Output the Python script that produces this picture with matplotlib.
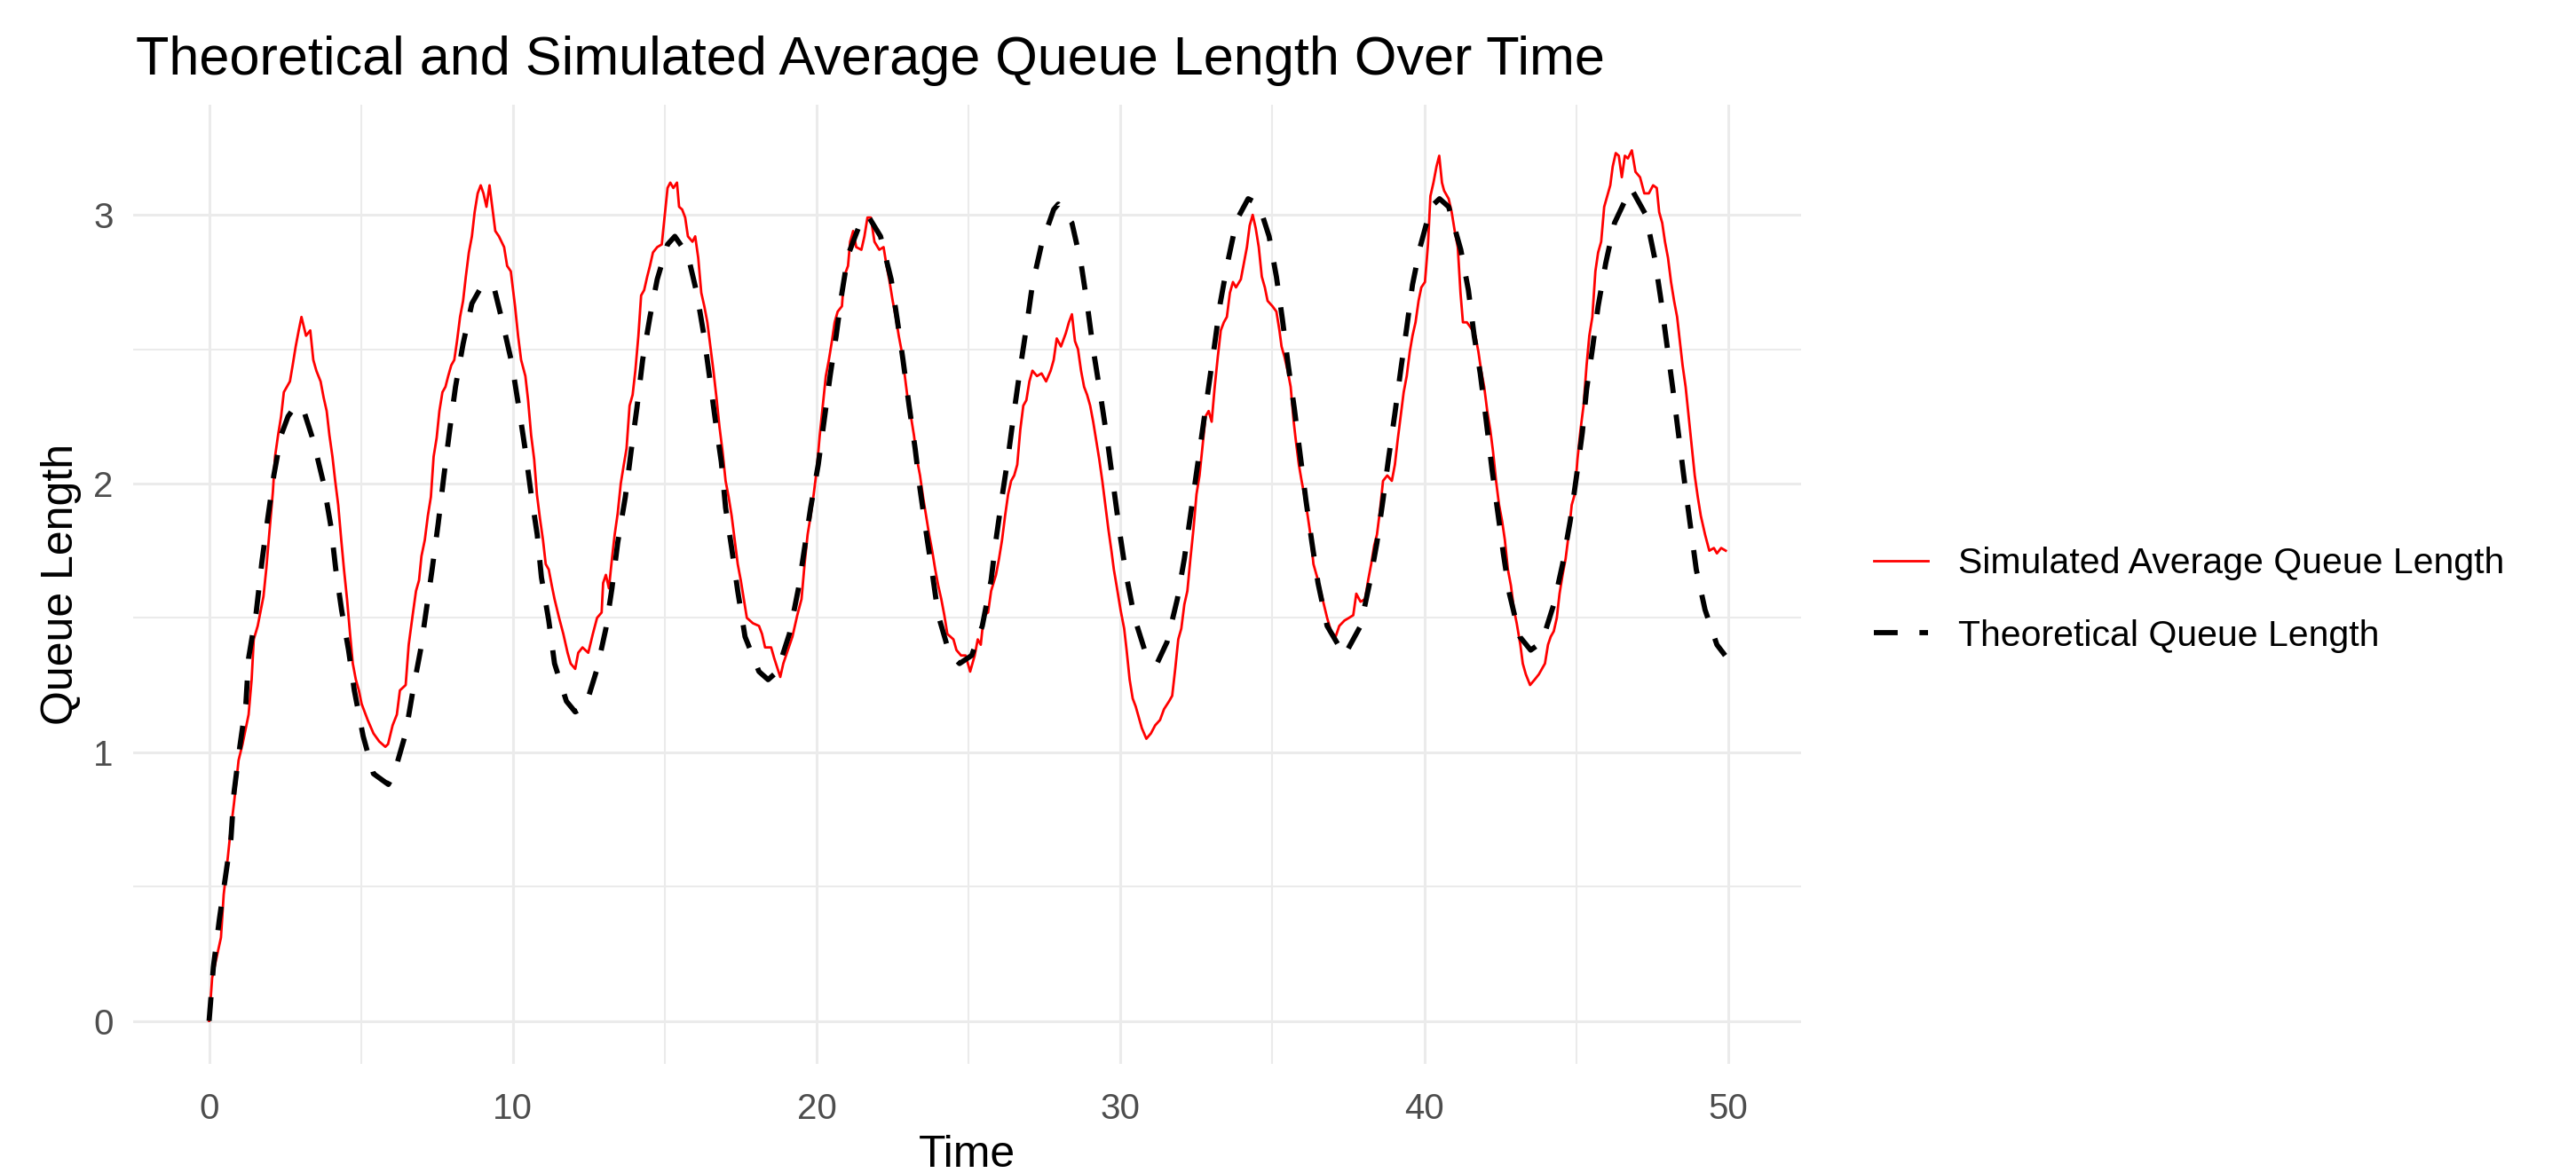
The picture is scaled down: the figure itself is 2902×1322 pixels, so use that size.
import matplotlib.pyplot as plt
from matplotlib.ticker import MultipleLocator

plt.rcParams['font.family'] = ['Liberation Sans', 'DejaVu Sans']

# simulated average queue length
sim_time = [0.0, 0.1, 0.39, 0.48, 0.58, 0.7, 0.82, 0.97, 1.1, 1.3, 1.4, 1.47, 1.6, 1.79, 1.88, 1.98,
            2.1, 2.17, 2.27, 2.37, 2.46, 2.66, 2.75, 2.85, 2.95, 3.04, 3.19, 3.33, 3.43, 3.53, 3.67,
            3.77, 3.87, 3.96, 4.06, 4.15, 4.25, 4.35, 4.44, 4.54, 4.64, 4.73, 4.83, 4.93, 5.02, 5.22,
            5.41, 5.6, 5.8, 5.89, 6.04, 6.18, 6.28, 6.47, 6.57, 6.7, 6.81, 6.91, 6.99, 7.1, 7.2, 7.3,
            7.39, 7.49, 7.58, 7.68, 7.78, 7.87, 7.97, 8.07, 8.16, 8.26, 8.36, 8.45, 8.55, 8.65, 8.74,
            8.84, 8.94, 9.03, 9.13, 9.23, 9.32, 9.42, 9.54, 9.71, 9.81, 9.93, 10.07, 10.17, 10.27,
            10.41, 10.5, 10.6, 10.7, 10.79, 10.89, 10.99, 11.08, 11.18, 11.28, 11.37, 11.52, 11.66,
            11.8, 11.9, 12.05, 12.15, 12.29, 12.48, 12.63, 12.77, 12.92, 12.97, 13.06, 13.16, 13.26,
            13.35, 13.45, 13.55, 13.65, 13.74, 13.84, 13.94, 14.03, 14.13, 14.22, 14.32, 14.42, 14.51,
            14.61, 14.75, 14.9, 14.99, 15.09, 15.18, 15.28, 15.4, 15.47, 15.57, 15.67, 15.76, 15.91,
            16.0, 16.1, 16.2, 16.3, 16.4, 16.5, 16.6, 16.7, 16.8, 16.9, 17.0, 17.1, 17.2, 17.3, 17.4,
            17.5, 17.6, 17.7, 17.9, 18.1, 18.2, 18.3, 18.5, 18.6, 18.8, 18.9, 19.05, 19.2, 19.36, 19.5,
            19.6, 19.7, 19.8, 19.9, 20.0, 20.1, 20.2, 20.3, 20.4, 20.5, 20.59, 20.69, 20.83, 20.9,
            21.03, 21.1, 21.2, 21.3, 21.47, 21.57, 21.67, 21.78, 21.9, 22.06, 22.2, 22.3, 22.4, 22.5,
            22.6, 22.7, 22.8, 22.9, 23.0, 23.1, 23.2, 23.3, 23.4, 23.5, 23.6, 23.7, 23.8, 23.9, 24.0,
            24.1, 24.2, 24.3, 24.5, 24.6, 24.75, 24.9, 25.05, 25.2, 25.3, 25.4, 25.5, 25.64, 25.74,
            25.9, 26.0, 26.1, 26.2, 26.3, 26.4, 26.5, 26.6, 26.7, 26.8, 26.9, 27.0, 27.1, 27.25, 27.4,
            27.55, 27.7, 27.8, 27.9, 28.04, 28.2, 28.3, 28.4, 28.5, 28.6, 28.7, 28.8, 28.9, 29.0, 29.1,
            29.2, 29.3, 29.4, 29.5, 29.6, 29.7, 29.78, 29.87, 30.0, 30.12, 30.2, 30.3, 30.4, 30.5, 30.6,
            30.7, 30.85, 31.0, 31.14, 31.3, 31.43, 31.6, 31.7, 31.8, 31.9, 32.0, 32.1, 32.2, 32.3, 32.4,
            32.5, 32.6, 32.7, 32.8, 32.9, 33.0, 33.1, 33.2, 33.3, 33.4, 33.5, 33.6, 33.7, 33.8, 33.96,
            34.06, 34.16, 34.25, 34.35, 34.45, 34.55, 34.65, 34.75, 34.84, 35.0, 35.13, 35.23, 35.3,
            35.4, 35.5, 35.6, 35.7, 35.77, 35.87, 35.96, 36.06, 36.16, 36.25, 36.35, 36.5, 36.65, 36.8,
            36.93, 37.08, 37.2, 37.37, 37.52, 37.66, 37.76, 37.9, 38.05, 38.15, 38.25, 38.35, 38.44,
            38.54, 38.64, 38.78, 38.93, 39.03, 39.12, 39.22, 39.32, 39.42, 39.52, 39.61, 39.71, 39.81,
            39.9, 40.02, 40.12, 40.2, 40.3, 40.4, 40.49, 40.58, 40.65, 40.8, 40.9, 41.0, 41.1, 41.19,
            41.27, 41.4, 41.53, 41.68, 41.78, 41.87, 41.97, 42.07, 42.17, 42.26, 42.36, 42.46, 42.56,
            42.65, 42.75, 42.85, 42.95, 43.04, 43.16, 43.24, 43.34, 43.48, 43.63, 43.77, 43.87, 43.97,
            44.07, 44.16, 44.26, 44.36, 44.45, 44.55, 44.65, 44.75, 44.85, 44.95, 45.04, 45.14, 45.24,
            45.34, 45.43, 45.53, 45.63, 45.72, 45.82, 45.92, 46.02, 46.12, 46.2, 46.3, 46.4, 46.5, 46.6,
            46.7, 46.83, 46.95, 47.1, 47.24, 47.39, 47.53, 47.65, 47.73, 47.83, 47.92, 48.02, 48.12,
            48.22, 48.32, 48.41, 48.5, 48.6, 48.7, 48.8, 48.9, 49.0, 49.1, 49.24, 49.38, 49.53, 49.63,
            49.77, 49.92]
sim_queue = [0.0, 0.16, 0.31, 0.47, 0.57, 0.7, 0.81, 0.97, 1.03, 1.14, 1.27, 1.42, 1.47, 1.58, 1.68, 1.81,
             1.97, 2.1, 2.18, 2.25, 2.34, 2.38, 2.44, 2.51, 2.57, 2.62, 2.55, 2.57, 2.46, 2.42, 2.38,
             2.32, 2.27, 2.18, 2.1, 2.01, 1.92, 1.79, 1.68, 1.57, 1.44, 1.33, 1.27, 1.23, 1.18, 1.12,
             1.07, 1.04, 1.02, 1.03, 1.1, 1.14, 1.23, 1.25, 1.4, 1.51, 1.6, 1.64, 1.73, 1.79, 1.88, 1.95,
             2.1, 2.17, 2.27, 2.34, 2.36, 2.4, 2.44, 2.46, 2.53, 2.62, 2.68, 2.77, 2.86, 2.92, 3.01,
             3.08, 3.11, 3.08, 3.03, 3.11, 3.03, 2.94, 2.92, 2.88, 2.81, 2.79, 2.66, 2.55, 2.46,
             2.4, 2.31, 2.18, 2.09, 1.96, 1.87, 1.79, 1.7, 1.68, 1.62, 1.57, 1.5, 1.44,
             1.37, 1.33, 1.31, 1.37, 1.39, 1.37, 1.44, 1.5, 1.52, 1.63, 1.66, 1.61, 1.72,
             1.81, 1.89, 2.0, 2.07, 2.13, 2.29, 2.33, 2.42, 2.55, 2.7, 2.72, 2.77, 2.81,
             2.86, 2.88, 2.89, 2.99, 3.1, 3.12, 3.1, 3.12, 3.03, 3.02, 2.99, 2.92, 2.9,
             2.92, 2.84, 2.71, 2.66, 2.6, 2.51, 2.42, 2.32, 2.21, 2.12, 2.01, 1.95, 1.88, 1.79, 1.7,
             1.64, 1.57, 1.5, 1.48, 1.47, 1.44, 1.39, 1.39, 1.35, 1.28, 1.33, 1.38, 1.43, 1.51, 1.57,
             1.7, 1.81, 1.88, 1.96, 2.05, 2.18, 2.29, 2.4, 2.46, 2.53, 2.6, 2.64, 2.66, 2.77,
             2.81, 2.9, 2.94, 2.88, 2.87, 2.92, 2.99, 2.99, 2.9, 2.87, 2.88, 2.81, 2.75, 2.68,
             2.62, 2.55, 2.49, 2.4, 2.31, 2.25, 2.18, 2.09, 2.03, 1.95, 1.88, 1.81, 1.75, 1.68, 1.62,
             1.57, 1.51, 1.44, 1.42, 1.38, 1.36, 1.36, 1.3, 1.36, 1.42, 1.4, 1.51, 1.52, 1.6,
             1.66, 1.72, 1.79, 1.88, 1.96, 2.01, 2.03, 2.07, 2.2, 2.29, 2.31, 2.38, 2.42, 2.4, 2.41,
             2.38, 2.42, 2.46, 2.54, 2.51, 2.56, 2.6, 2.63, 2.53, 2.5, 2.42, 2.36, 2.33, 2.29, 2.23,
             2.16, 2.09, 2.01, 1.92, 1.83, 1.75, 1.68, 1.62, 1.53, 1.46, 1.38, 1.27, 1.2, 1.17, 1.13,
             1.09, 1.05, 1.07, 1.1, 1.12, 1.16, 1.19, 1.21, 1.31, 1.42, 1.46, 1.55, 1.6, 1.72, 1.83,
             1.96, 2.03, 2.14, 2.25, 2.27, 2.23, 2.36, 2.47, 2.57, 2.6, 2.62, 2.71, 2.75, 2.73, 2.76,
             2.82, 2.88, 2.96, 3.0, 2.95, 2.88, 2.77, 2.73, 2.68, 2.66, 2.64, 2.57, 2.51,
             2.47, 2.42, 2.36, 2.23, 2.16, 2.07, 2.01, 1.95, 1.88, 1.81, 1.7, 1.64, 1.57, 1.5,
             1.45, 1.43, 1.47, 1.49, 1.5, 1.51, 1.59, 1.56, 1.57, 1.64, 1.7, 1.77, 1.81,
             1.9, 2.01, 2.03, 2.01, 2.07, 2.16, 2.25, 2.34, 2.4, 2.49, 2.55, 2.6, 2.68,
             2.73, 2.75, 2.89, 3.07, 3.12, 3.18, 3.22, 3.12, 3.09, 3.06, 3.01, 2.94, 2.88, 2.71,
             2.6, 2.6, 2.58, 2.55, 2.49, 2.42, 2.36, 2.27, 2.2, 2.12, 2.01, 1.92, 1.86,
             1.79, 1.68, 1.62, 1.53, 1.48, 1.4, 1.33, 1.29, 1.25, 1.27, 1.29, 1.31, 1.33,
             1.4, 1.43, 1.45, 1.5, 1.59, 1.66, 1.72, 1.81, 1.92, 1.96, 2.09, 2.2, 2.29,
             2.44, 2.55, 2.62, 2.79, 2.86, 2.9, 3.03, 3.07, 3.11, 3.18, 3.23, 3.22, 3.14, 3.22,
             3.21, 3.24, 3.16, 3.14, 3.08, 3.08, 3.11, 3.1, 3.01, 2.97, 2.9, 2.84, 2.75,
             2.68, 2.62, 2.53, 2.44, 2.36, 2.25, 2.14, 2.03, 1.95, 1.88, 1.81, 1.75, 1.76, 1.74,
             1.76, 1.75]

# theoretical queue length
theory_time = [0.0, 0.14, 0.34, 0.53, 0.72, 0.82, 1.01, 1.21, 1.3, 1.55, 1.74, 1.93, 2.13, 2.37, 2.6,
               2.85, 3.09, 3.43, 3.77, 4.01, 4.17, 4.36, 4.59, 4.78, 5.07, 5.41, 5.9, 6.09, 6.47,
               6.71, 6.96, 7.15, 7.34, 7.54, 7.73, 7.92, 8.11, 8.36, 8.65, 9.0, 9.23, 9.4, 9.68,
               9.96, 10.2, 10.4, 10.6, 10.8, 10.94, 11.18, 11.37, 11.76, 12.05, 12.39, 12.77, 13.06,
               13.26, 13.45, 13.7, 13.89, 14.08, 14.27, 14.51, 14.75, 15.09, 15.33, 15.76, 16.05,
               16.29, 16.48, 16.67, 16.86, 17.0, 17.2, 17.4, 17.64, 18.1, 18.4, 18.7, 19.1, 19.4,
               19.6, 19.8, 20.05, 20.25, 20.44, 20.64, 20.83, 21.03, 21.47, 21.67, 22.1, 22.45,
               22.65, 22.84, 23.04, 23.24, 23.4, 23.6, 23.8, 24.0, 24.36, 24.7, 25.1, 25.45, 25.74,
               25.9, 26.1, 26.3, 26.5, 26.7, 26.9, 27.1, 27.4, 27.8, 27.95, 28.4, 28.7, 28.9, 29.1,
               29.34, 29.58, 29.78, 29.97, 30.17, 30.46, 30.85, 31.2, 31.53, 31.87, 32.1, 32.3, 32.5,
               32.7, 32.9, 33.1, 33.28, 33.52, 33.82, 34.2, 34.55, 34.89, 35.13, 35.33, 35.52, 35.72,
               35.9, 36.1, 36.3, 36.5, 36.8, 37.37, 37.9, 38.2, 38.44, 38.64, 38.83, 39.03, 39.22,
               39.42, 39.61, 39.86, 40.22, 40.5, 40.8, 41.2, 41.45, 41.64, 41.84, 42.03, 42.23, 42.42,
               42.6, 42.8, 43.14, 43.5, 43.87, 44.26, 44.55, 44.8, 45.0, 45.2, 45.34, 45.53, 45.72,
               45.97, 46.26, 46.8, 47.29, 47.58, 47.78, 47.97, 48.17, 48.37, 48.56, 48.76, 48.95,
               49.24, 49.63, 49.9]
theory_queue = [0.0, 0.2, 0.38, 0.53, 0.68, 0.85, 1.02, 1.18, 1.35, 1.52, 1.71, 1.87, 2.03, 2.18, 2.25,
                2.29, 2.28, 2.16, 2.0, 1.84, 1.68, 1.53, 1.38, 1.23, 1.06, 0.92, 0.88, 0.92, 1.07,
                1.23, 1.38, 1.53, 1.68, 1.85, 2.03, 2.2, 2.36, 2.52, 2.67, 2.74, 2.74, 2.72, 2.59,
                2.45, 2.28, 2.13, 1.96, 1.81, 1.65, 1.49, 1.33, 1.19, 1.15, 1.17, 1.31, 1.46,
                1.61, 1.78, 1.95, 2.12, 2.28, 2.46, 2.62, 2.76, 2.89, 2.92, 2.85, 2.71,
                2.55, 2.39, 2.23, 2.08, 1.91, 1.76, 1.6, 1.43, 1.3, 1.27, 1.3, 1.44, 1.61,
                1.76, 1.91, 2.07, 2.24, 2.4, 2.55, 2.71, 2.85, 2.98, 3.0, 2.92, 2.76,
                2.61, 2.46, 2.29, 2.13, 1.98, 1.82, 1.67, 1.51, 1.37, 1.33, 1.36, 1.47, 1.64,
                1.79, 1.95, 2.1, 2.27, 2.43, 2.58, 2.74, 2.89, 3.02, 3.04, 2.97, 2.82, 2.67, 2.5,
                2.33, 2.15, 1.98, 1.82, 1.67, 1.5, 1.36, 1.33, 1.41, 1.57, 1.72, 1.88, 2.04,
                2.2, 2.36, 2.52, 2.67, 2.82, 2.98, 3.06, 3.04, 2.92, 2.77, 2.61, 2.44, 2.28,
                2.12, 1.94, 1.78, 1.63, 1.47, 1.36, 1.47, 1.63, 1.78, 1.94, 2.1, 2.26, 2.42,
                2.58, 2.74, 2.88, 3.03, 3.06, 3.03, 2.87, 2.72, 2.55, 2.41, 2.24, 2.05, 1.89,
                1.74, 1.59, 1.43, 1.38, 1.41, 1.55, 1.7, 1.86, 2.02, 2.19, 2.35, 2.5, 2.66,
                2.82, 2.97, 3.1, 3.0, 2.84, 2.69, 2.53, 2.36, 2.18, 2.01, 1.84, 1.68,
                1.53, 1.4, 1.36]

x_ticks = [0, 10, 20, 30, 40, 50]
y_ticks = [0, 1, 2, 3]

W, H = 2902, 1322
fig = plt.figure(figsize=(W / 100, H / 100), dpi=100)
ax = fig.add_axes([150 / W, 1 - 1199 / H, 1879 / W, 1081 / H])

ax.plot(sim_time, sim_queue, color='#FF0000', linewidth=2.0, label='Simulated Average Queue Length')
ax.plot(theory_time, theory_queue, color='black', linewidth=4.2, dashes=(4.6, 4.2),
        dash_capstyle='butt', label='Theoretical Queue Length')

ax.set_xlim(-2.5, 52.4)
ax.set_ylim(-0.16, 3.41)
ax.set_xticks(x_ticks)
ax.set_yticks(y_ticks)
ax.xaxis.set_minor_locator(MultipleLocator(5))
ax.yaxis.set_minor_locator(MultipleLocator(0.5))
ax.grid(which='major', color='#EBEBEB', linewidth=2.2)
ax.grid(which='minor', color='#EBEBEB', linewidth=1.5)
ax.set_axisbelow(True)
for s in ax.spines.values():
    s.set_visible(False)
ax.tick_params(axis='both', which='both', length=0, labelsize=29, labelcolor='#4D4D4D')
ax.tick_params(axis='x', pad=23)
ax.tick_params(axis='y', pad=16)

ax.set_xlabel('Time', fontsize=36)
ax.xaxis.set_label_coords(0.5, -0.095)
ax.xaxis.label.set_va('center')
ax.set_ylabel('Queue Length', fontsize=36)
ax.yaxis.set_label_coords(-0.043, 0.5)
ax.yaxis.label.set_va('center')

fig.text(153 / W, 1 - 84 / H, 'Theoretical and Simulated Average Queue Length Over Time',
         fontsize=44, ha='left', va='baseline')

ax.legend(loc='center left', bbox_to_anchor=(2111 / W, 1 - 676 / H), bbox_transform=fig.transFigure,
          frameon=False, fontsize=29.5, handlelength=1.48, handletextpad=0.85, labelspacing=1.05,
          borderpad=0, borderaxespad=0)

plt.savefig('out.png', dpi=100)
